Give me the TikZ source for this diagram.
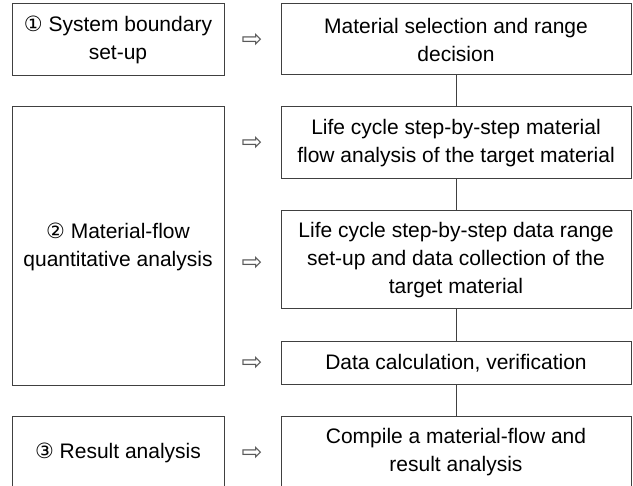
\documentclass[tikz,border=0pt]{standalone}
\usepackage{fontspec}
\setmainfont{Liberation Sans}
\newfontfamily\symfont{DejaVu Sans}
\begin{document}
\begin{tikzpicture}[
    x=1pt, y=-1pt,
    box/.style={draw=black!75, line width=1pt, align=center,
                inner sep=0pt, font=\fontsize{21}{28}\selectfont},
    stage/.style={box, minimum width=212pt},
    task/.style={box, minimum width=350pt},
    hint/.style={font=\symfont\fontsize{25}{25}\selectfont, text=black!65,
                 inner sep=0pt},
    link/.style={draw=black!75, line width=1pt},
]
\useasboundingbox (0,0) rectangle (633,486);
\def\lx{118}
\def\rx{456}
\def\ax{252}

% Stages (left column)
\node[stage, minimum height=72pt]  (s1) at (\lx, 40)    {{\symfont ①} System boundary\\set-up};
\node[stage, minimum height=279pt] (s2) at (\lx, 246.5) {{\symfont ②} Material-flow\\quantitative analysis};
\node[stage, minimum height=71pt]  (s3) at (\lx, 452.5) {{\symfont ③} Result analysis};

% Tasks (right column)
\node[task, minimum height=71pt] (t1) at (\rx, 39.5)  {Material selection and range\\decision};
\node[task, minimum height=72pt] (t2) at (\rx, 143)   {Life cycle step-by-step material\\flow analysis of the target material};
\node[task, minimum height=98pt] (t3) at (\rx, 260)   {Life cycle step-by-step data range\\set-up and data collection of the\\target material};
\node[task, minimum height=43pt] (t4) at (\rx, 363.5) {Data calculation, verification};
\node[task, minimum height=71pt] (t5) at (\rx, 452.5) {Compile a material-flow and\\result analysis};

% Hollow arrows between columns
\node[hint] (a1) at (\ax, 40)  {⇨};
\node[hint] (a2) at (\ax, 143) {⇨};
\node[hint] (a3) at (\ax, 263) {⇨};
\node[hint] (a4) at (\ax, 363) {⇨};
\node[hint] (a5) at (\ax, 453) {⇨};

% Vertical links
\foreach \a/\b in {t1/t2, t2/t3, t3/t4, t4/t5}
  \draw[link] (\a.south) -- (\b.north);

\end{tikzpicture}
\end{document}
